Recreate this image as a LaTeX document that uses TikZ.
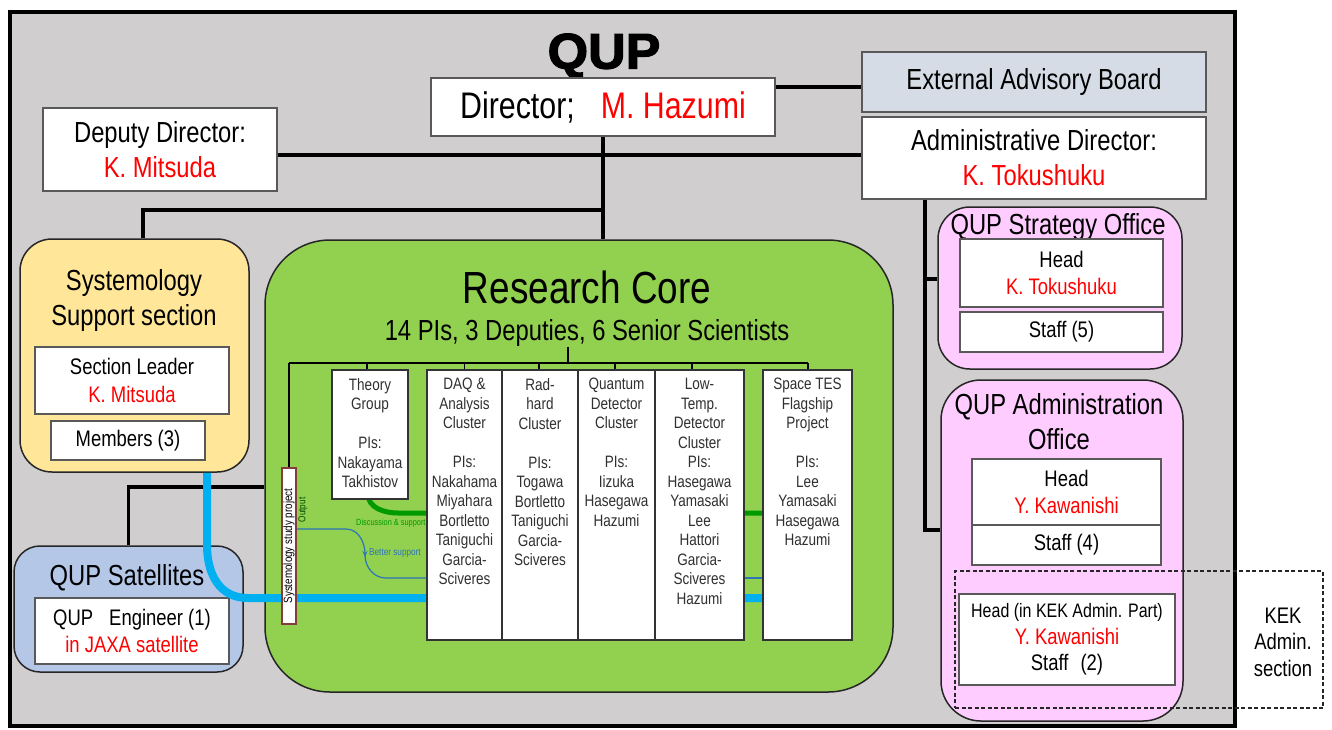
\documentclass[tikz,border=0pt]{standalone}
\usepackage{fontspec}
\setmainfont{Liberation Sans}[FakeStretch=0.82]
\newfontfamily\qupfont{Liberation Sans Bold}[FakeStretch=1.04,FakeBold=2.5]
\usetikzlibrary{arrows.meta}
\definecolor{bgrey}{HTML}{D0CECE}
\definecolor{yell}{HTML}{FFE699}
\definecolor{grn}{HTML}{92D050}
\definecolor{satblue}{HTML}{B4C7E7}
\definecolor{pnk}{HTML}{FFCCFF}
\definecolor{advb}{HTML}{D6DCE5}
\definecolor{cyanline}{HTML}{00B0F0}
\definecolor{dgreen}{HTML}{009A00}
\definecolor{tblue}{HTML}{2E75B6}
\definecolor{brownb}{HTML}{843C3C}
\definecolor{boxline}{HTML}{595959}
\definecolor{nred}{HTML}{FF0000}
\definecolor{ctext}{HTML}{303030}
\tikzset{
  wbox/.style={draw=boxline, line width=1.5pt, fill=white, inner sep=0pt, align=center},
  rbox/.style={draw=black!85, line width=1.5pt, inner sep=0pt},
  cbox/.style={draw=black!80, line width=1.5pt, fill=white, inner sep=0pt, minimum height=270pt},
  ctxt/.style={anchor=north, align=center, inner sep=0pt, text=ctext, font=\fontsize{16.5}{19.5}\selectfont},
  conn/.style={line width=3.5pt, black},
  treeline/.style={line width=1.8pt, black},
  f45/.style={font=\fontsize{45}{50}\selectfont, align=center},
  f37/.style={font=\fontsize{37}{42}\selectfont, align=center},
  f29/.style={font=\fontsize{29}{35}\selectfont, align=center},
  f22/.style={font=\fontsize{22.5}{27.5}\selectfont, align=center},
}
\begin{document}
\begin{tikzpicture}[x=1pt,y=-1pt]
\useasboundingbox (0,0) rectangle (1332,729);
\fill[white] (0,0) rectangle (1332,729);
\draw[line width=4pt, fill=bgrey] (10,12) rectangle (1235,726);

% ---- top level ----
\node[font=\qupfont\fontsize{50}{55}\selectfont, inner sep=0pt] (qup) at (604,56) {QUP};
\node[wbox, minimum width=344pt, minimum height=58pt, f37] (dir) at (603,107) {Director;\hspace{26pt}\textcolor{nred}{M. Hazumi}};
\node[wbox, fill=advb, minimum width=344pt, minimum height=60pt, f29] (ext) at (1034,82) {External Advisory Board};
\node[wbox, minimum width=344pt, minimum height=82pt, f29] (adm) at (1034,158) {Administrative Director:\\\textcolor{nred}{K. Tokushuku}};
\node[wbox, minimum width=234pt, minimum height=83pt, f29] (dep) at (160,149.5) {Deputy Director:\\\textcolor{nred}{K. Mitsuda}};

% ---- left side ----
\node[rbox, fill=yell, rounded corners=32pt, minimum width=229pt, minimum height=233pt] (sys) at (134.5,355.5) {};
\node[f29] (systitle) at (134,300) {Systemology\\Support section};
\node[wbox, minimum width=194pt, minimum height=67pt, f22] (lead) at (132,380.5) {Section Leader\\\textcolor{nred}{K. Mitsuda}};
\node[wbox, minimum width=154pt, minimum height=39pt, f22] (mem) at (128,440.5) {Members (3)};

\node[rbox, fill=satblue, rounded corners=26pt, minimum width=229pt, minimum height=126pt] (sat) at (128.5,609) {};
\node[f29] (sattitle) at (127,578) {QUP Satellites};
\node[wbox, minimum width=194pt, minimum height=66pt, f22] (eng) at (132,631) {QUP\hspace{16pt}Engineer (1)\\\textcolor{nred}{in JAXA satellite}};

% ---- research core ----
\node[rbox, fill=grn, rounded corners=65pt, minimum width=628pt, minimum height=452pt] (core) at (579,466) {};
\node[f45, inner sep=0pt] (coret) at (587,287) {Research Core};
\node[f29, inner sep=0pt] (cores) at (587,333) {14 PIs, 3 Deputies, 6 Senior Scientists};

% ---- right side ----
\node[rbox, fill=pnk, rounded corners=32pt, minimum width=244pt, minimum height=162pt] (strat) at (1060,288) {};
\node[f29, inner sep=0pt] (stratt) at (1058,227) {QUP Strategy Office};
\node[wbox, minimum width=203pt, minimum height=68pt, f22] (shead) at (1061.5,273) {Head\\\textcolor{nred}{K. Tokushuku}};
\node[wbox, minimum width=203pt, minimum height=40pt, f22] (sstaff) at (1061.5,332) {Staff (5)};

\node[rbox, fill=pnk, rounded corners=40pt, minimum width=242pt, minimum height=341pt] (aoff) at (1062,550.5) {};
\node[f29, inner sep=0pt] (aofft) at (1059,422) {QUP Administration\\Office};
\node[wbox, minimum width=189pt, minimum height=66pt, f22] (ahead) at (1066.5,492) {Head\\\textcolor{nred}{Y. Kawanishi}};
\node[wbox, minimum width=189pt, minimum height=40pt, f22] (astaff) at (1066.5,545) {Staff (4)};
\node[wbox, minimum width=216pt, minimum height=91pt, font=\fontsize{22.5}{26.5}\selectfont] (kek) at (1067,639.5) {{\fontsize{19.5}{26.5}\selectfont Head (in KEK Admin. Part)}\\\textcolor{nred}{Y. Kawanishi}\\Staff\hspace{12pt}(2)};
\node[align=center, font=\fontsize{22.5}{26.5}\selectfont, inner sep=0pt] (keklbl) at (1283,642) {KEK\\Admin.\\section};

% ---- main connectors ----
\draw[conn] (dir.south) -- (dir.south |- core.north);
\draw[conn] (dep.east |- 0,155) -- (adm.west |- 0,155);
\draw[conn] (dir.east |- 0,87) -- (ext.west |- 0,87);
\draw[conn] (sys.north -| 143,0) |- (dir.south |- 0,210);
\draw[conn] (adm.south -| 925,0) |- (aoff.west |- 0,530);
\draw[conn] (925,279) -- (strat.west |- 0,279);
\draw[conn] (sat.north) |- (core.west |- 0,487);

% ---- lines inside research core (behind cluster boxes) ----
\coordinate (greenend) at (763,513);
\draw[dgreen, line width=5pt] (368,494) to[out=-90,in=180] (398,513) -- (greenend);
\node[text=dgreen, font=\fontsize{9}{10}\selectfont, anchor=west, inner sep=0pt] (lds) at (356,523) {Discussion \& support};
\node[text=tblue, font=\fontsize{10}{11}\selectfont, anchor=west, inner sep=0pt] (lbs) at (369,553) {Better support};
\node[text=black!70!green, font=\fontsize{10}{11}\selectfont, rotate=90, inner sep=0pt] (lout) at (303,510) {Output};
\draw[cyanline, line width=8pt] (sys.south -| 207,0) -- (207,545) to[out=-90,in=180,looseness=1.1] (248,598) -- (763,598);

% ---- cluster boxes ----
\node[cbox, minimum width=76pt, minimum height=129pt] (theory) at (370,434.5) {};
\node[cbox, minimum width=75pt] (daq) at (464.5,505) {};
\node[cbox, minimum width=76pt] (rad) at (540,505) {};
\node[cbox, minimum width=77pt] (quant) at (616.5,505) {};
\node[cbox, minimum width=89pt] (low) at (699.5,505) {};
\node[cbox, minimum width=89pt] (space) at (807.5,505) {};

\draw[tblue, line width=1.2pt, -{Stealth[length=6pt,width=5pt]}] (296,529) -- (346,529) to[out=0,in=90] (365,557);
\draw[tblue, line width=1.2pt] (365,555) to[out=-90,in=180] (386,578) -- (daq.west |- 0,578);
\draw[tblue, line width=1.2pt] (low.east |- 0,578) -- (space.west |- 0,578);

\node[ctxt] (theoryT) at (370,378) {Theory\\Group\\[19.5pt]PIs:\\Nakayama\\Takhistov};
\node[ctxt] (daqT) at (464.5,378) {DAQ \&\\Analysis\\Cluster\\[19.5pt]PIs:\\Nakahama\\Miyahara\\Bortletto\\Taniguchi\\Garcia-\\Sciveres};
\node[ctxt] (radT) at (540,378) {Rad-\\hard\\Cluster\\[19.5pt]PIs:\\Togawa\\Bortletto\\Taniguchi\\Garcia-\\Sciveres};
\node[ctxt] (quantT) at (616.5,378) {Quantum\\Detector\\Cluster\\[19.5pt]PIs:\\Iizuka\\Hasegawa\\Hazumi};
\node[ctxt] (lowT) at (699.5,378) {Low-\\Temp.\\Detector\\Cluster\\PIs:\\Hasegawa\\Yamasaki\\Lee\\Hattori\\Garcia-\\Sciveres\\Hazumi};
\node[ctxt] (spaceT) at (807.5,378) {Space TES\\Flagship\\Project\\[19.5pt]PIs:\\Lee\\Yamasaki\\Hasegawa\\Hazumi};

% ---- study project box ----
\node[draw=brownb, line width=1.5pt, fill=white, minimum width=14pt, minimum height=156pt, inner sep=0pt] (study) at (289,546) {};
\node[rotate=90, font=\fontsize{12}{13}\selectfont, inner sep=0pt] (studyT) at (study.center) {Systemology study project};

% ---- tree ----
\draw[treeline] (cores.south -| 568,0) -- (568,363);
\draw[treeline] (289,363) -- (808,363);
\draw[treeline] (289,363) -- (study.north);
\draw[treeline] (theory.north -| 367,0) -- (367,363);
\draw[treeline] (daq.north) -- (daq.north |- 0,363);
\draw[treeline] (rad.north -| 539,0) -- (539,363);
\draw[treeline] (quant.north -| 615,0) -- (615,363);
\draw[treeline] (low.north -| 692,0) -- (692,363);
\draw[treeline] (space.north -| 808,0) -- (808,363);

% ---- KEK zone ----
\node[draw=black!85, dash pattern=on 4pt off 2.5pt, line width=1.3pt, minimum width=368pt, minimum height=137pt, inner sep=0pt] (kekz) at (1139,639.5) {};
\end{tikzpicture}
\end{document}
